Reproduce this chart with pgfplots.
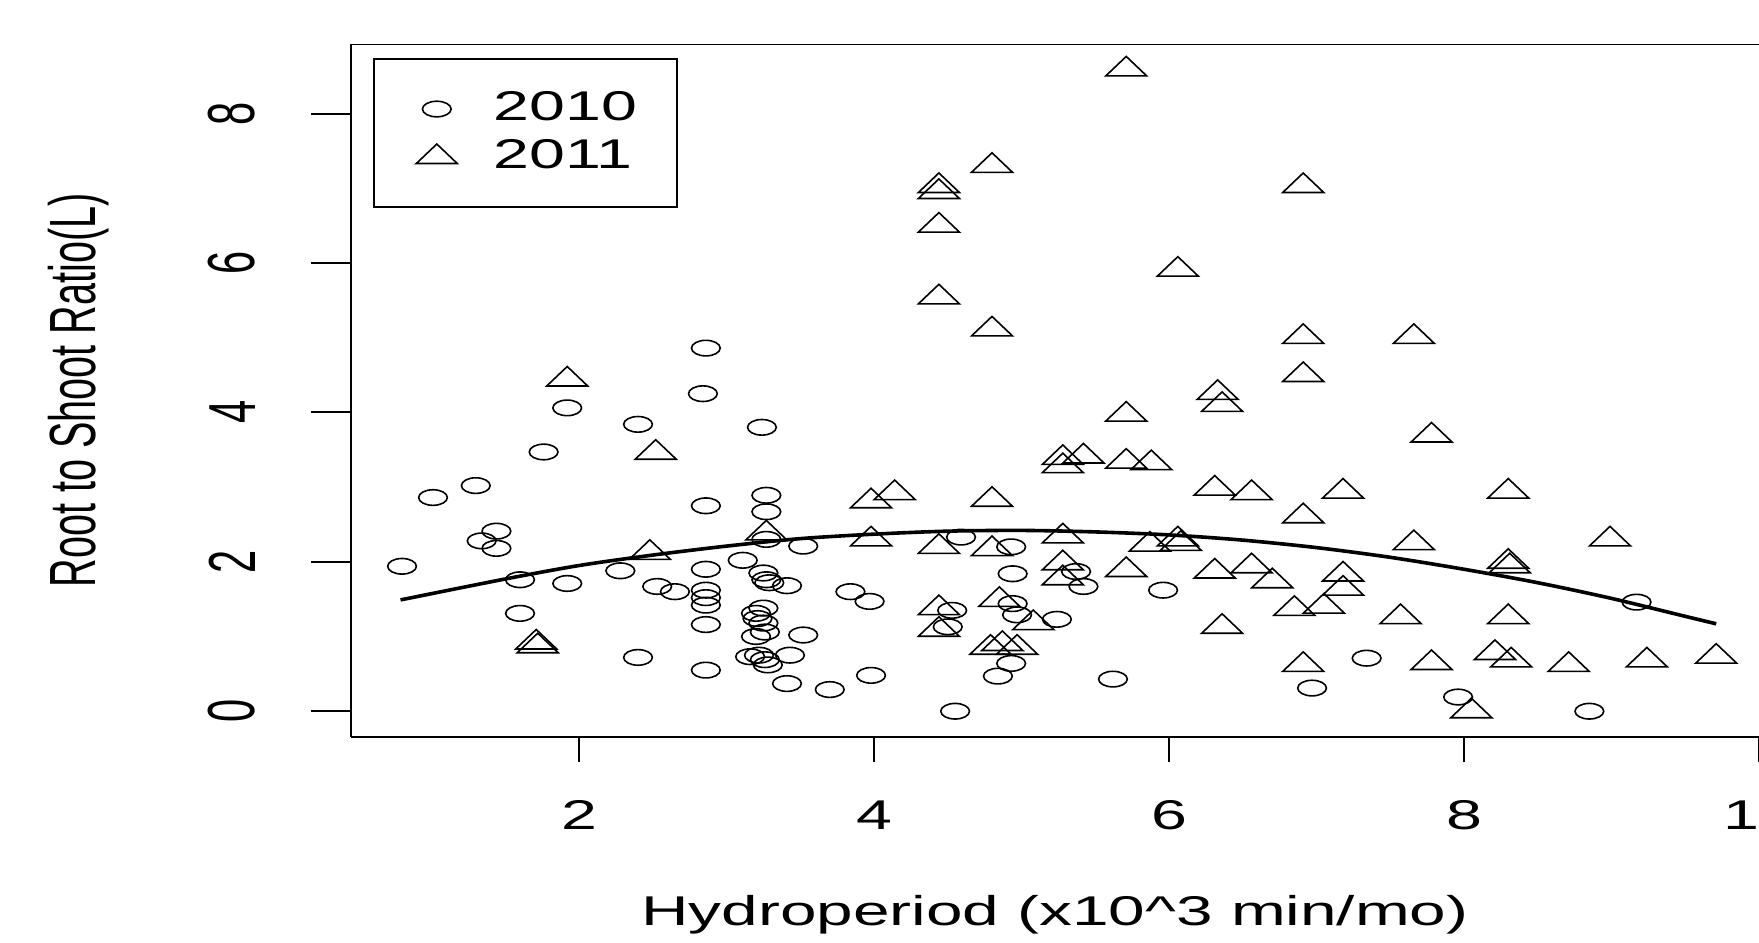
\documentclass[border=0pt]{standalone}
\usepackage{fontspec}
\setmainfont{Liberation Sans}
\usepackage{graphicx}
\usepackage{pgfplots}
\pgfplotsset{compat=1.18}

\newcommand{\lblfont}{\fontsize{10.4bp}{12bp}\selectfont}

\begin{document}
\begin{tikzpicture}
\path[use as bounding box] (-87.75bp,-51.5bp) rectangle (352bp,184.25bp);
\begin{axis}[
  at={(0,0)}, anchor=south west,
  scale only axis, width=352bp, height=173.25bp,
  xmin=0.454, xmax=10, ymin=-0.345, ymax=8.93,
  axis x line*=bottom, axis y line*=left,
  axis line style={-, line width=0.5bp},
  xtick={2,4,6,8,10}, ytick={0,2,4,6,8},
  tick align=outside, major tick length=6.25bp,
  tick style={line width=0.5bp, black},
  ytick style={/pgfplots/major tick length=10bp},
  /pgf/number format/assume math mode=true,
  ticklabel style={font=\lblfont, inner sep=0pt},
  xticklabel style={xscale=1.55, anchor=north},
  yticklabel style={rotate=90, yscale=1.6, anchor=south},
  xticklabel shift=9.5bp, yticklabel shift=17.4bp,
  xlabel={Hydroperiod (x10\textasciicircum 3 min/mo)},
  every axis x label/.style={at={(axis description cs:0.5,0)}, yshift=-47bp,
    xscale=1.58, anchor=base, inner sep=0pt, font=\lblfont},
  ylabel={Root to Shoot Ratio(L)},
  every axis y label/.style={at={(axis description cs:0,0.5)}, xshift=-68.1bp,
    rotate=90, yscale=1.65, anchor=center, inner sep=0pt,
    font=\fontsize{9.9bp}{12bp}\selectfont},
  legend cell align=left,
  legend style={at={(rel axis cs:0,1)}, anchor=north west, xshift=5.5bp, yshift=-3.5bp,
    draw=black, line width=0.5bp, inner xsep=1.7bp, inner ysep=6.5bp,
    row sep=0pt, column sep=0.3bp, nodes={inner sep=0pt}, font=\lblfont},
  legend image code/.code={\path[draw=none] (0bp,-6bp) rectangle (28bp,6bp);
    \draw[#1] plot coordinates {(14bp,0bp)};},
]
% 2010
\addplot[only marks, mark=o, mark size=1.95bp,
  mark options={xscale=1.84, line width=0.4bp, black}] coordinates {
(0.80,1.94) (1.01,2.86) (1.30,3.02) (1.44,2.41) (1.34,2.28) (1.44,2.18)
(1.76,3.47) (1.92,4.06) (2.40,3.84) (1.60,1.76) (1.92,1.71) (2.28,1.88)
(1.60,1.31) (2.40,0.72) (2.53,1.67) (2.65,1.60)
(2.86,4.86) (2.84,4.25) (3.24,3.80) (2.86,2.75) (3.27,2.89) (3.27,2.67)
(3.27,2.30) (3.52,2.21)
(2.86,1.90) (2.86,1.62) (2.86,1.52) (2.86,1.42) (2.86,1.16) (2.86,0.55)
(3.11,2.02) (3.25,1.85) (3.27,1.76) (3.29,1.72) (3.41,1.68)
(3.25,1.38) (3.20,1.31) (3.21,1.24) (3.25,1.18) (3.26,1.06) (3.20,1.00)
(3.16,0.73) (3.22,0.75) (3.26,0.69) (3.28,0.62) (3.43,0.75) (3.41,0.37)
(3.70,0.29) (3.52,1.02)
(3.84,1.60) (3.97,1.47) (3.98,0.48)
(4.59,2.33) (4.93,2.20) (4.94,1.84) (5.37,1.87) (5.42,1.67) (4.53,1.35)
(4.50,1.13) (4.94,1.44) (4.97,1.29) (5.24,1.23) (4.93,0.64) (4.84,0.47)
(4.55,0.00) (5.62,0.43) (5.96,1.62)
(6.97,0.31) (7.34,0.71) (7.96,0.19) (8.85,0.00) (9.17,1.46)
};
\addlegendentry{\scalebox{1.55}[1]{2010}\rule{8.25bp}{0pt}}
% 2011
\addplot[only marks, mark=triangle, mark size=3.25bp,
  mark options={xscale=1.82, line width=0.4bp, black}] coordinates {
(5.71,8.59) (4.80,7.30) (4.44,7.03) (4.44,6.95) (4.44,6.50) (4.44,5.54)
(4.80,5.11) (6.06,5.91) (6.91,7.03) (6.91,5.01) (6.91,4.50) (7.66,5.01)
(7.78,3.69) (7.18,2.94) (8.30,2.94) (6.91,2.61) (8.99,2.30) (7.66,2.25)
(8.30,2.00) (8.31,1.94) (7.18,1.83) (7.18,1.64) (7.05,1.40) (6.85,1.37)
(7.57,1.26) (8.30,1.26) (6.91,0.62) (7.78,0.645) (8.21,0.78) (8.32,0.68)
(8.71,0.62) (9.24,0.68) (9.71,0.73) (8.05,0.00)
(6.33,4.26) (6.36,4.10) (5.71,3.97) (5.28,3.39) (5.42,3.41) (5.28,3.28)
(5.71,3.34) (5.88,3.32) (3.98,2.81) (4.14,2.92) (4.80,2.83) (6.31,2.98)
(6.56,2.92) (3.98,2.30) (4.44,2.20) (4.80,2.17) (5.28,2.34) (5.87,2.23)
(6.06,2.30) (6.08,2.24) (5.28,1.98) (5.28,1.78) (5.71,1.89) (6.31,1.87)
(6.56,1.94) (6.70,1.74) (4.44,1.38) (4.44,1.09) (4.85,1.49) (5.08,1.18)
(6.36,1.13) (4.79,0.85) (4.87,0.90) (4.97,0.85)
(1.92,4.44) (2.52,3.46) (1.71,0.92) (1.72,0.87) (2.48,2.12) (3.27,2.38)
};
\addlegendentry{\scalebox{1.55}[1]{2011}\rule{8.25bp}{0pt}}
% fitted curve
\addplot[black, line width=0.9bp, smooth, no marks, forget plot] coordinates {
(0.79,1.49) (1.5,1.77) (2.0,1.95) (2.5,2.09) (3.0,2.21) (3.5,2.31)
(4.0,2.37) (4.5,2.41) (5.0,2.42) (5.5,2.40) (6.0,2.36) (6.5,2.29)
(7.0,2.19) (7.5,2.06) (8.0,1.90) (8.5,1.72) (9.0,1.51) (9.5,1.27) (9.71,1.17)
};
\draw[line width=0.5bp] (rel axis cs:0,1) -- (rel axis cs:1,1);
\end{axis}
\end{tikzpicture}
\end{document}
